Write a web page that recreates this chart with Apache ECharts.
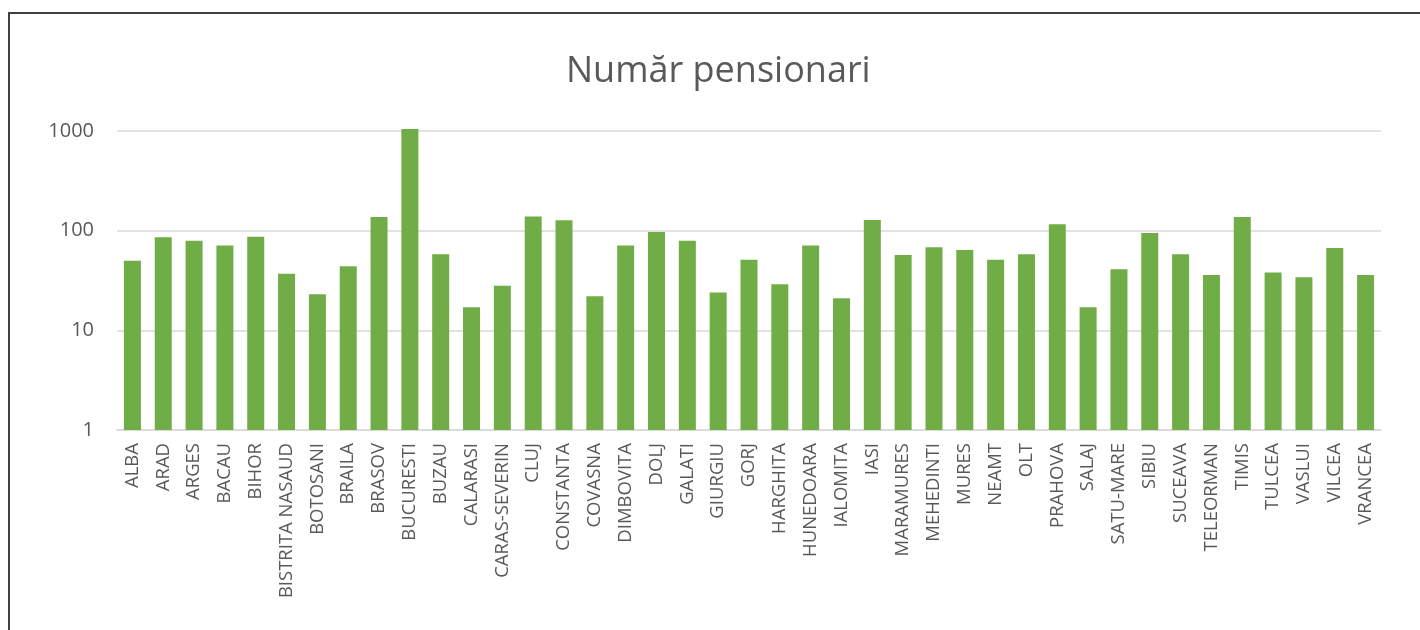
<!DOCTYPE html>
<html>
<head>
<meta charset="utf-8">
<script src="https://cdn.jsdelivr.net/npm/echarts@6/dist/echarts.min.js"></script>
<style>
  html, body { margin: 0; padding: 0; background: #fff; overflow: hidden; }
  #chart { position: absolute; left: 0; top: 0; width: 1420px; height: 630px; }
  /* chenar exterior (vizibil doar sus si stanga) */
  #frame { position: absolute; left: 8px; top: 12px; width: 1500px; height: 700px; border: 2px solid #404040; pointer-events: none; }
</style>
</head>
<body>
<div id="chart"></div>
<div id="frame"></div>
<script>
// judete
const judete = ['ALBA', 'ARAD', 'ARGES', 'BACAU', 'BIHOR', 'BISTRITA NASAUD', 'BOTOSANI', 'BRAILA', 'BRASOV', 'BUCURESTI',
  'BUZAU', 'CALARASI', 'CARAS-SEVERIN', 'CLUJ', 'CONSTANTA', 'COVASNA', 'DIMBOVITA', 'DOLJ', 'GALATI', 'GIURGIU',
  'GORJ', 'HARGHITA', 'HUNEDOARA', 'IALOMITA', 'IASI', 'MARAMURES', 'MEHEDINTI', 'MURES', 'NEAMT', 'OLT',
  'PRAHOVA', 'SALAJ', 'SATU-MARE', 'SIBIU', 'SUCEAVA', 'TELEORMAN', 'TIMIS', 'TULCEA', 'VASLUI', 'VILCEA', 'VRANCEA'];

// numar pensionari (scara logaritmica)
const pensionari = [50, 86, 79, 71, 87, 37, 23, 44, 137, 1045,
  58, 17, 28, 139, 127, 22, 71, 97, 79, 24,
  51, 29, 71, 21, 128, 57, 68, 64, 51, 58,
  116, 17, 41, 95, 58, 36, 137, 38, 34, 67, 36];

const titlu = 'Număr pensionari';

const myChart = echarts.init(document.getElementById('chart'));

const option = {
  animation: false,
  backgroundColor: 'transparent',
  title: {
    text: titlu,
    left: 561,
    top: 49,
    textStyle: {
      fontFamily: 'Open Sans',
      fontSize: 36,
      fontWeight: 'normal',
      color: '#595959',
    },
  },
  grid: {
    left: 117,
    right: 39,
    top: 131,
    bottom: 200,
    containLabel: false,
    outerBoundsMode: 'none',
  },
  xAxis: {
    type: 'category',
    data: judete,
    axisLine: { lineStyle: { color: '#d9d9d9', width: 1.5 } },
    axisTick: { show: false },
    axisLabel: {
      interval: 0,
      rotate: 90,
      margin: 13,
      fontFamily: 'Open Sans',
      fontSize: 18.5,
      color: '#595959',
    },
  },
  yAxis: {
    type: 'log',
    logBase: 10,
    min: 1,
    max: 1000,
    axisLine: { show: false },
    axisTick: { show: false },
    splitLine: { lineStyle: { color: '#d9d9d9', width: 1.5 } },
    axisLabel: {
      margin: 23,
      fontFamily: 'Open Sans',
      fontSize: 20,
      color: '#595959',
      formatter: (v) => String(Math.round(v)),
    },
  },
  series: [{
    type: 'bar',
    data: pensionari,
    barWidth: 17,
    clip: false, // BUCURESTI depaseste putin linia de 1000
    itemStyle: { color: '#70ad47' },
  }],
};

myChart.setOption(option);
</script>
</body>
</html>
